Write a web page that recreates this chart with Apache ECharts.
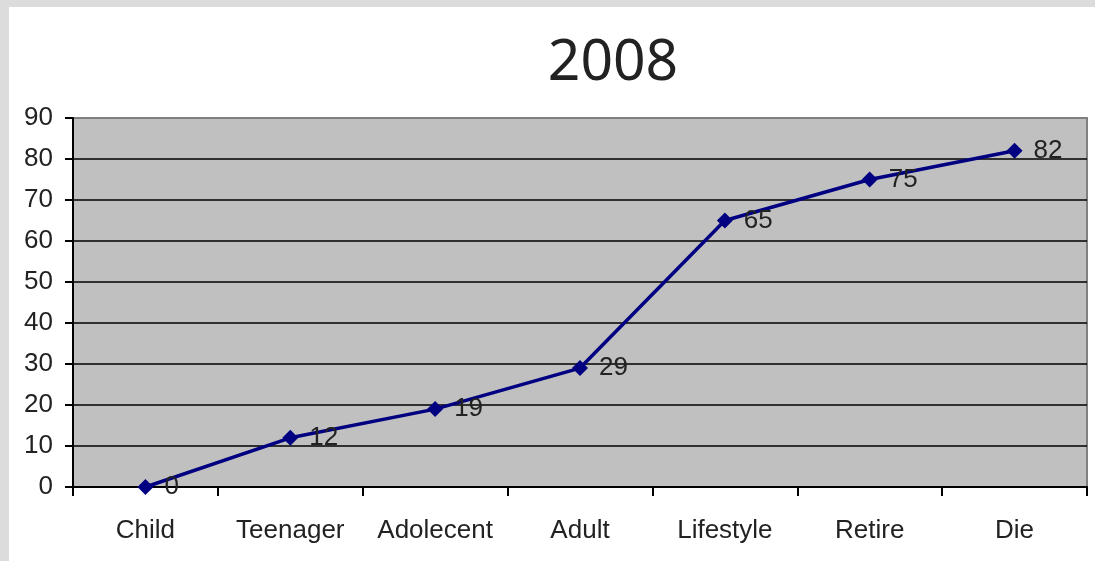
<!DOCTYPE html>
<html>
<head>
<meta charset="utf-8">
<script src="https://cdn.jsdelivr.net/npm/echarts@6/dist/echarts.min.js"></script>
<style>
  html, body { margin: 0; padding: 0; background: #dcdcdc; }
  #chart { position: absolute; left: 9px; top: 7px; width: 1086px; height: 554px; background: #fff; }
</style>
</head>
<body>
<div id="chart"></div>
<script>
const categories = ['Child', 'Teenager', 'Adolecent', 'Adult', 'Lifestyle', 'Retire', 'Die']
const values = [0, 12, 19, 29, 65, 75, 82]
const yTicks = { min: 0, max: 90, interval: 10 }

const chart = echarts.init(document.getElementById('chart'))
chart.setOption({
  animation: false,
  title: {
    text: '2008',
    left: 599,
    top: 23,
    textAlign: 'center',
    textStyle: { fontFamily: 'Noto Sans', fontSize: 57, fontWeight: 'normal', color: '#222' }
  },
  grid: {
    left: 64,
    right: 8,
    top: 111,
    bottom: 74,
    show: true,
    backgroundColor: '#c0c0c0',
    borderColor: '#808080',
    borderWidth: 2
  },
  xAxis: {
    type: 'category',
    data: categories,
    boundaryGap: true,
    axisLine: { lineStyle: { color: '#000', width: 2 } },
    axisTick: { show: true, interval: 0, length: 9, lineStyle: { color: '#000', width: 2 } },
    axisLabel: {
      interval: 0,
      color: '#222',
      fontFamily: 'Liberation Sans',
      fontSize: 26,
      margin: 31
    }
  },
  yAxis: {
    type: 'value',
    min: yTicks.min,
    max: yTicks.max,
    interval: yTicks.interval,
    axisLine: { show: true, lineStyle: { color: '#000', width: 2 } },
    axisTick: { show: true, length: 8, lineStyle: { color: '#000', width: 2 } },
    axisLabel: {
      color: '#222',
      fontFamily: 'Liberation Sans',
      fontSize: 26,
      margin: 20
    },
    splitLine: {
      show: true,
      showMaxLine: false,
      lineStyle: { color: '#000', width: 1.5 }
    }
  },
  series: [
    {
      type: 'line',
      data: values,
      symbol: 'diamond',
      symbolSize: 16,
      lineStyle: { color: '#000080', width: 3.5 },
      itemStyle: { color: '#000080' },
      label: {
        show: true,
        position: 'right',
        distance: 11,
        color: '#222',
        fontFamily: 'Liberation Sans',
        fontSize: 26
      }
    }
  ]
})
</script>
</body>
</html>
